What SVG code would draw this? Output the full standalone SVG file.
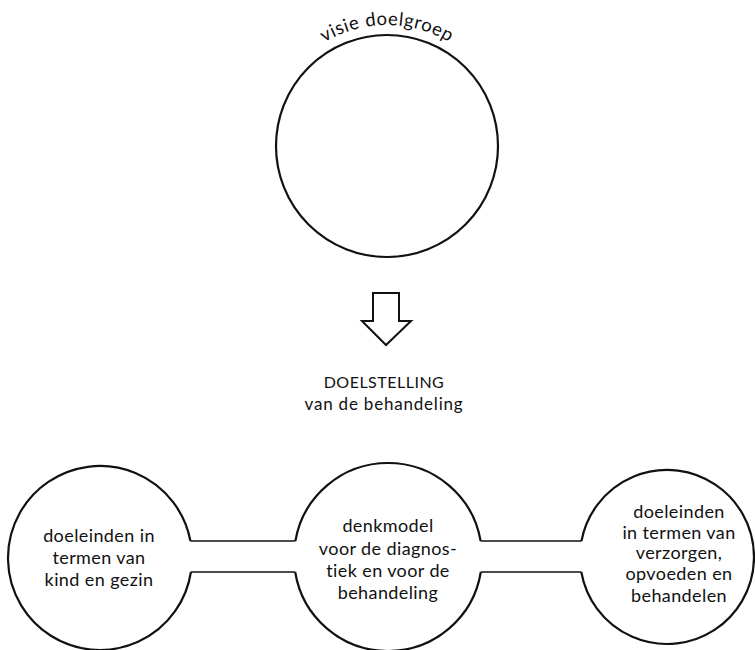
<svg xmlns="http://www.w3.org/2000/svg" xmlns:xlink="http://www.w3.org/1999/xlink" width="755" height="650" viewBox="0 0 755 650">
  <style>
    .ring { fill: none; stroke: #111; stroke-width: 2.2; }
    .tube { fill: none; stroke: #111; stroke-width: 1.6; }
    .arrow { fill: #fff; stroke: #111; stroke-width: 2; stroke-linejoin: miter; }
    .lbl { font-family: Lato, "Liberation Sans", sans-serif; font-size: 18px; letter-spacing: 0.4px; fill: #111; text-anchor: middle; }
  </style>
  <defs>
    <path id="arcPath" d="M 266 146 A 121 121 0 0 1 508 146"/>
  </defs>
  <rect width="755" height="650" fill="#fff"/>

  <!-- top circle with its curved caption -->
  <g id="visie">
    <circle class="ring" cx="387" cy="146" r="111"/>
    <text class="lbl" style="font-size:18.5px;letter-spacing:0.6px"><textPath xlink:href="#arcPath" href="#arcPath" startOffset="50%">visie doelgroep</textPath></text>
  </g>

  <!-- hollow down arrow -->
  <g id="pijl">
    <polygon class="arrow" points="373,293 399,293 399,321 411,321 386,345 362,321 373,321"/>
  </g>

  <!-- heading -->
  <g id="doelstelling">
    <text class="lbl" x="384" y="388" style="font-size:16px;letter-spacing:0.5px">DOELSTELLING</text>
    <text class="lbl" x="384" y="410" style="font-size:17px;letter-spacing:0.8px">van de behandeling</text>
  </g>

  <!-- connectors: parallel lines joining the three circles -->
  <g id="connectors">
    <line class="tube" x1="190.4" y1="541" x2="295.4" y2="541"/>
    <line class="tube" x1="190.9" y1="572" x2="295.2" y2="572"/>
    <line class="tube" x1="480.6" y1="541" x2="581.5" y2="541"/>
    <line class="tube" x1="480.8" y1="572" x2="581.3" y2="572"/>
  </g>

  <!-- left circle, open on the right -->
  <g id="kind-gezin">
    <path class="ring" d="M 190.42 541 A 92 92 0 1 0 190.93 572"/>
    <text class="lbl" x="99" y="542">doeleinden in</text>
    <text class="lbl" x="99" y="564">termen van</text>
    <text class="lbl" x="99" y="586">kind en gezin</text>
  </g>

  <!-- middle circle, open on both sides -->
  <g id="denkmodel">
    <path class="ring" d="M 295.37 541 A 94 94 0 0 1 480.63 541"/>
    <path class="ring" d="M 480.80 572 A 94 94 0 0 1 295.20 572"/>
    <text class="lbl" x="388" y="532">denkmodel</text>
    <text class="lbl" x="388" y="555">voor de diagnos-</text>
    <text class="lbl" x="388" y="577">tiek en voor de</text>
    <text class="lbl" x="388" y="599">behandeling</text>
  </g>

  <!-- right circle, open on the left -->
  <g id="verzorgen">
    <path class="ring" d="M 581.48 541 A 87 87 0 1 1 581.30 572"/>
    <text class="lbl" x="679" y="518">doeleinden</text>
    <text class="lbl" x="679" y="539">in termen van</text>
    <text class="lbl" x="679" y="559">verzorgen,</text>
    <text class="lbl" x="679" y="580">opvoeden en</text>
    <text class="lbl" x="679" y="602">behandelen</text>
  </g>
</svg>
